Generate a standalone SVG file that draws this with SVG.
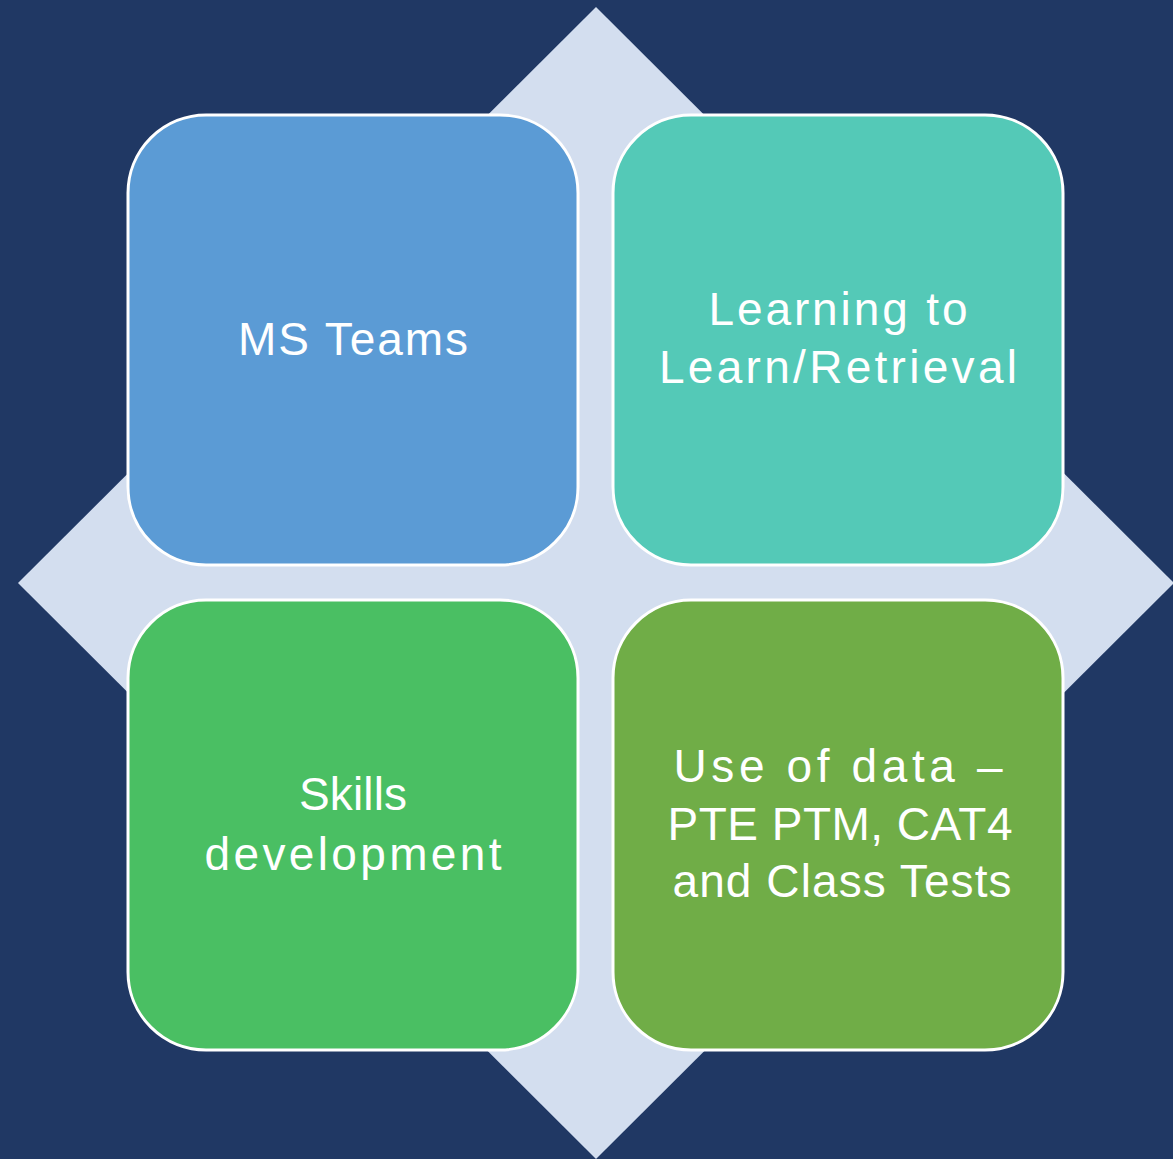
<svg xmlns="http://www.w3.org/2000/svg" width="1173" height="1159" viewBox="0 0 1173 1159">
<style>
.box{stroke:#ffffff;stroke-width:3}
.t{font-family:"Liberation Sans","Open Sans",sans-serif;font-size:46px;fill:#ffffff;text-anchor:middle}
</style>
<rect x="0" y="0" width="1173" height="1159" fill="#203864"/>
<polygon id="diamond" points="596,7 1174,583 596,1159 18,583" fill="#d3deef"/>
<g id="node-ms-teams">
<rect class="box" x="128" y="115" width="450" height="450" rx="78" ry="78" fill="#5b9bd5"/>
<text class="t" x="353" y="355" textLength="230" lengthAdjust="spacing">MS Teams</text>
</g>
<g id="node-learning">
<rect class="box" x="613" y="115" width="450" height="450" rx="78" ry="78" fill="#54c9b7"/>
<text class="t" x="838" y="325" textLength="259" lengthAdjust="spacing">Learning to</text>
<text class="t" x="838" y="383" textLength="358" lengthAdjust="spacing">Learn/Retrieval</text>
</g>
<g id="node-skills">
<rect class="box" x="128" y="600" width="450" height="450" rx="78" ry="78" fill="#4abf63"/>
<text class="t" x="353" y="810" textLength="108" lengthAdjust="spacing">Skills</text>
<text class="t" x="353" y="870" textLength="297" lengthAdjust="spacing">development</text>
</g>
<g id="node-data">
<rect class="box" x="613" y="600" width="450" height="450" rx="78" ry="78" fill="#70ad47"/>
<text class="t" x="838" y="782" textLength="329" lengthAdjust="spacing">Use of data –</text>
<text class="t" x="840" y="840" textLength="345" lengthAdjust="spacing">PTE PTM, CAT4</text>
<text class="t" x="842" y="897" textLength="339" lengthAdjust="spacing">and Class Tests</text>
</g>
<g id="connectors"></g>
</svg>
